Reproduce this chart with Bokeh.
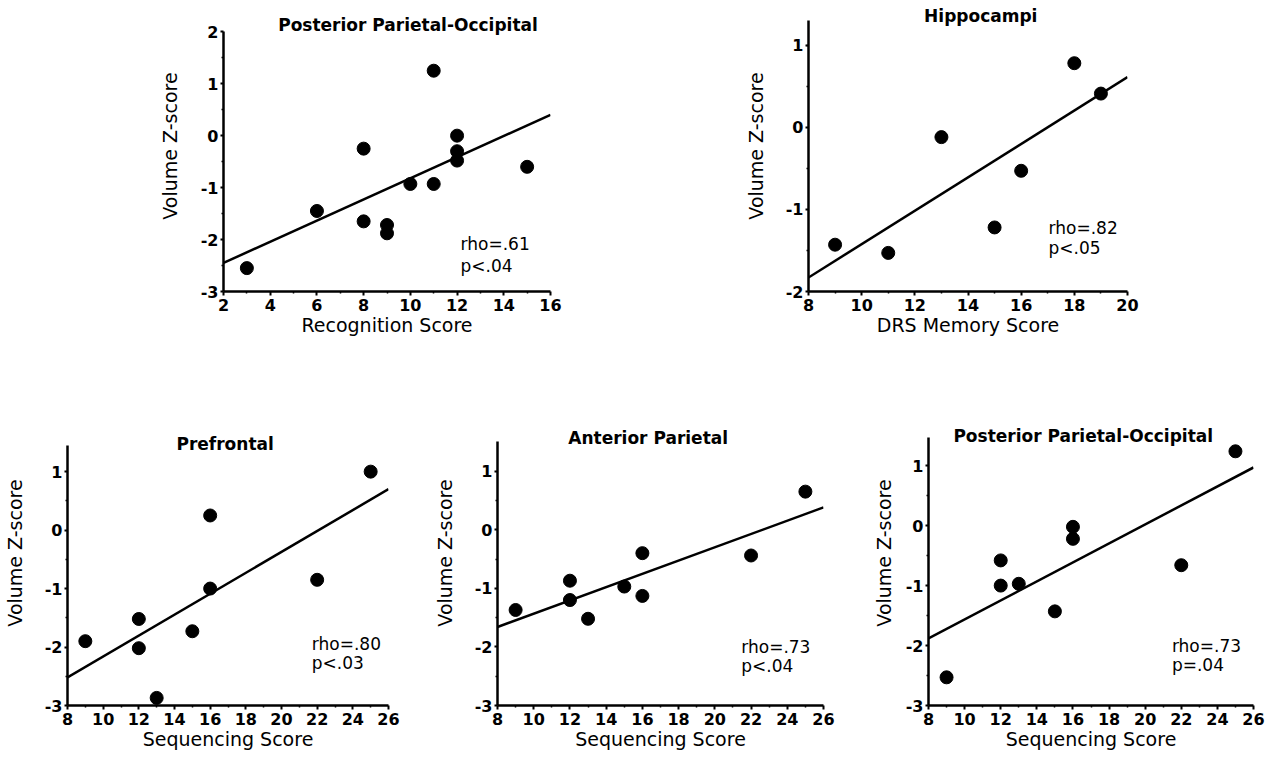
from bokeh.plotting import figure
from bokeh.models import Range1d, FixedTicker, Label
from bokeh.layouts import row, column
from bokeh.embed import file_html
from bokeh.resources import INLINE

# ---------------- data ----------------
# Panel A: Posterior Parietal-Occipital vs Recognition Score
ppo_rec_x = [3, 6, 8, 8, 9, 9, 10, 11, 11, 12, 12, 12, 15]
ppo_rec_y = [-2.55, -1.45, -0.25, -1.65, -1.72, -1.88, -0.93, 1.25, -0.93, 0.0, -0.30, -0.48, -0.60]
ppo_rec_fit_x = [2, 16]
ppo_rec_fit_y = [-2.45, 0.40]
ppo_rec_stats = ["rho=.61", "p<.04"]

# Panel B: Hippocampi vs DRS Memory Score
hip_x = [9, 11, 13, 15, 16, 18, 19]
hip_y = [-1.43, -1.53, -0.12, -1.22, -0.53, 0.78, 0.41]
hip_fit_x = [8, 20]
hip_fit_y = [-1.83, 0.61]
hip_stats = ["rho=.82", "p<.05"]

# Panel C: Prefrontal vs Sequencing Score
pf_x = [9, 12, 12, 13, 15, 16, 16, 22, 25]
pf_y = [-1.90, -1.52, -2.02, -2.87, -1.73, 0.25, -1.00, -0.85, 1.00]
pf_fit_x = [8, 26]
pf_fit_y = [-2.52, 0.70]
pf_stats = ["rho=.80", "p<.03"]

# Panel D: Anterior Parietal vs Sequencing Score
ap_x = [9, 12, 12, 13, 15, 16, 16, 22, 25]
ap_y = [-1.37, -0.87, -1.20, -1.52, -0.97, -0.40, -1.13, -0.44, 0.65]
ap_fit_x = [8, 26]
ap_fit_y = [-1.66, 0.38]
ap_stats = ["rho=.73", "p<.04"]

# Panel E: Posterior Parietal-Occipital vs Sequencing Score
ppo_seq_x = [9, 12, 12, 13, 15, 16, 16, 22, 25]
ppo_seq_y = [-2.53, -0.58, -1.00, -0.97, -1.43, -0.02, -0.22, -0.66, 1.24]
ppo_seq_fit_x = [8, 26]
ppo_seq_fit_y = [-1.88, 0.97]
ppo_seq_stats = ["rho=.73", "p=.04"]

# tick values
rec_ticks = [2, 4, 6, 8, 10, 12, 14, 16]
rec_minor = [3, 5, 7, 9, 11, 13, 15]
drs_ticks = [8, 10, 12, 14, 16, 18, 20]
drs_minor = [9, 11, 13, 15, 17, 19]
seq_ticks = [8, 10, 12, 14, 16, 18, 20, 22, 24, 26]
seq_minor = [9, 11, 13, 15, 17, 19, 21, 23, 25]
z_ticks_a = [-3, -2, -1, 0, 1, 2]
z_minor_a = [-2.5, -1.5, -0.5, 0.5, 1.5]
z_ticks_b = [-2, -1, 0, 1]
z_minor_b = [-1.5, -0.5, 0.5, 1.0]
z_ticks_c = [-3, -2, -1, 0, 1]
z_minor_c = [-2.5, -1.5, -0.5, 0.5]

FONT = "DejaVu Sans"


def panel(width, height, left, right, top, bottom, xr, yr,
          xt, xm, yt, ym, xlabel, title, title_x, title_dy,
          xs, ys, fx, fy, stats, sx, sy, ylab_standoff=16):
    # frame starts at the top of the figure; the y range is extended by
    # "top" pixels so the title can sit inside the frame, the axis keeps yr
    scale = (height - top - bottom) / (yr[1] - yr[0])
    y_end = yr[1] + top / scale
    p = figure(width=width, height=height, output_backend="svg",
               toolbar_location=None, tools="",
               x_range=Range1d(*xr), y_range=Range1d(yr[0], y_end),
               min_border_left=left, min_border_right=right,
               min_border_top=0, min_border_bottom=bottom,
               x_axis_label=xlabel, y_axis_label="Volume Z-score")
    p.title.visible = False
    p.outline_line_color = None
    p.grid.visible = False
    p.background_fill_color = "white"
    p.border_fill_color = "white"
    p.xaxis.ticker = FixedTicker(ticks=xt, minor_ticks=xm)
    p.yaxis.ticker = FixedTicker(ticks=yt, minor_ticks=ym)
    p.xaxis.major_label_overrides = {t: str(t) for t in xt}
    p.yaxis.major_label_overrides = {t: str(t) for t in yt}
    p.yaxis.bounds = (yr[0], yr[1])
    for ax in (p.xaxis[0], p.yaxis[0]):
        ax.axis_line_width = 2.5
        ax.axis_line_color = "black"
        ax.major_tick_line_width = 2
        ax.major_tick_line_color = "black"
        ax.major_tick_in = 0
        ax.minor_tick_in = 0
        ax.minor_tick_out = 2
        ax.minor_tick_line_width = 1.5
        ax.minor_tick_line_color = "black"
        ax.major_label_text_font = FONT
        ax.major_label_text_font_style = "bold"
        ax.major_label_text_font_size = "16px"
        ax.major_label_text_color = "black"
        ax.axis_label_text_font = FONT
        ax.axis_label_text_font_style = "normal"
        ax.axis_label_text_font_size = "19px"
        ax.axis_label_text_color = "black"
    p.xaxis.major_tick_out = 4
    p.xaxis.major_label_standoff = 3
    p.xaxis.axis_label_standoff = 0
    p.yaxis.major_tick_out = 3
    p.yaxis.major_label_standoff = 2
    p.yaxis.axis_label_standoff = ylab_standoff

    p.line(fx, fy, line_width=2.5, line_color="black")
    p.scatter(xs, ys, size=13, fill_color="black", line_color="black")

    p.add_layout(Label(x=title_x, y=yr[1], y_offset=title_dy, text=title,
                       text_font=FONT, text_font_style="bold",
                       text_font_size="17px", text_align="center",
                       text_baseline="middle", text_color="black"))
    for i, s in enumerate(stats):
        p.add_layout(Label(x=sx, y=sy[i], text=s, text_font=FONT,
                           text_font_size="17px", text_align="left",
                           text_baseline="middle", text_color="black"))
    return p


# top row: 400 px high
pA = panel(741, 400, 223, 191, 32, 102, (2, 16), (-3, 2),
           rec_ticks, rec_minor, z_ticks_a, z_minor_a,
           "Recognition Score", "Posterior Parietal-Occipital", 9.9, 7,
           ppo_rec_x, ppo_rec_y, ppo_rec_fit_x, ppo_rec_fit_y,
           ppo_rec_stats, 12.15, [-2.09, -2.50], ylab_standoff=17)

pB = panel(524, 400, 62, 138, 20, 109, (8, 20), (-2, 1.3),
           drs_ticks, drs_minor, z_ticks_b, z_minor_b,
           "DRS Memory Score", "Hippocampi", 14.48, 5,
           hip_x, hip_y, hip_fit_x, hip_fit_y,
           hip_stats, 17.03, [-1.23, -1.47])

# bottom row: 359 px high
pC = panel(430, 359, 67, 42, 46, 46, (8, 26), (-3, 1.45),
           seq_ticks, seq_minor, z_ticks_c, z_minor_c,
           "Sequencing Score", "Prefrontal", 16.84, 1,
           pf_x, pf_y, pf_fit_x, pf_fit_y,
           pf_stats, 21.7, [-1.95, -2.28])

pD = panel(436, 359, 62, 43, 42, 49, (8, 26), (-3, 1.5),
           seq_ticks, seq_minor, z_ticks_c, z_minor_c,
           "Sequencing Score", "Anterior Parietal", 16.32, 4,
           ap_x, ap_y, ap_fit_x, ap_fit_y,
           ap_stats, 21.46, [-2.0, -2.33])

pE = panel(399, 359, 62, 12, 37, 54, (8, 26), (-3, 1.47),
           seq_ticks, seq_minor, z_ticks_c, z_minor_c,
           "Sequencing Score", "Posterior Parietal-Occipital", 16.57, 2,
           ppo_seq_x, ppo_seq_y, ppo_seq_fit_x, ppo_seq_fit_y,
           ppo_seq_stats, 21.48, [-2.0, -2.33], ylab_standoff=8)

layout = column(row(pA, pB), row(pC, pD, pE))

open("out.html", "w").write(file_html(layout, INLINE))
